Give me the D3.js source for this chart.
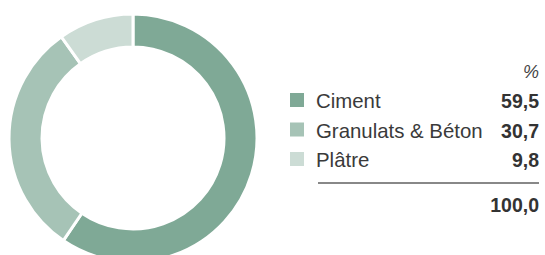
<!DOCTYPE html>
<html>
<head>
<meta charset="utf-8">
<script src="https://cdn.jsdelivr.net/npm/d3@7"></script>
<style>
  body { margin: 0; background: #fff; }
  #chart { width: 545px; height: 255px; overflow: hidden; }
  text { font-family: "Liberation Sans", Arial, sans-serif; }
</style>
</head>
<body>
<div id="chart"></div>
<script>
// Chart data
const categories = ['Ciment', 'Granulats & Béton', 'Plâtre'];
const shares = [59.5, 30.7, 9.8];
const valueLabels = ['59,5', '30,7', '9,8'];
const totalLabel = '100,0';
const unitLabel = '%';
const colors = ['#7fa996', '#a6c3b6', '#ccdcd5'];

const width = 545, height = 255;

const svg = d3.select('#chart')
    .append('svg')
    .attr('width', width)
    .attr('height', height);

// Donut
const cx = 133, cy = 138;
const outerR = 124, innerR = 91;

const pie = d3.pie().sort(null).value(d => d);
const arc = d3.arc().innerRadius(innerR).outerRadius(outerR);

svg.append('g')
    .attr('transform', `translate(${cx},${cy})`)
    .selectAll('path')
    .data(pie(shares))
    .enter()
    .append('path')
    .attr('d', arc)
    .attr('fill', (d, i) => colors[i])
    .attr('stroke', '#fff')
    .attr('stroke-width', 3);

// Legend table
const legendX = 290, labelX = 316, valueX = 539;
const rowY = d3.scalePoint()
    .domain(categories)
    .range([108, 167]);

svg.append('text')
    .attr('x', valueX)
    .attr('y', 78)
    .attr('text-anchor', 'end')
    .attr('font-size', 18)
    .attr('font-style', 'italic')
    .attr('fill', '#444')
    .text(unitLabel);

const rows = svg.selectAll('g.row')
    .data(categories)
    .enter()
    .append('g')
    .attr('class', 'row')
    .attr('transform', d => `translate(0,${rowY(d)})`);

rows.append('rect')
    .attr('x', legendX)
    .attr('y', -15)
    .attr('width', 14)
    .attr('height', 14)
    .attr('fill', (d, i) => colors[i]);

rows.append('text')
    .attr('x', labelX)
    .attr('font-size', 20.4)
    .attr('fill', '#3a3a3a')
    .text(d => d);

rows.append('text')
    .attr('x', valueX)
    .attr('text-anchor', 'end')
    .attr('font-size', 19.5)
    .attr('font-weight', 'bold')
    .attr('fill', '#333')
    .text((d, i) => valueLabels[i]);

// Total line and value
svg.append('line')
    .attr('x1', 318)
    .attr('x2', valueX)
    .attr('y1', 183)
    .attr('y2', 183)
    .attr('stroke', '#888')
    .attr('stroke-width', 2);

svg.append('text')
    .attr('x', valueX)
    .attr('y', 212)
    .attr('text-anchor', 'end')
    .attr('font-size', 19.5)
    .attr('font-weight', 'bold')
    .attr('fill', '#333')
    .text(totalLabel);
</script>
</body>
</html>
